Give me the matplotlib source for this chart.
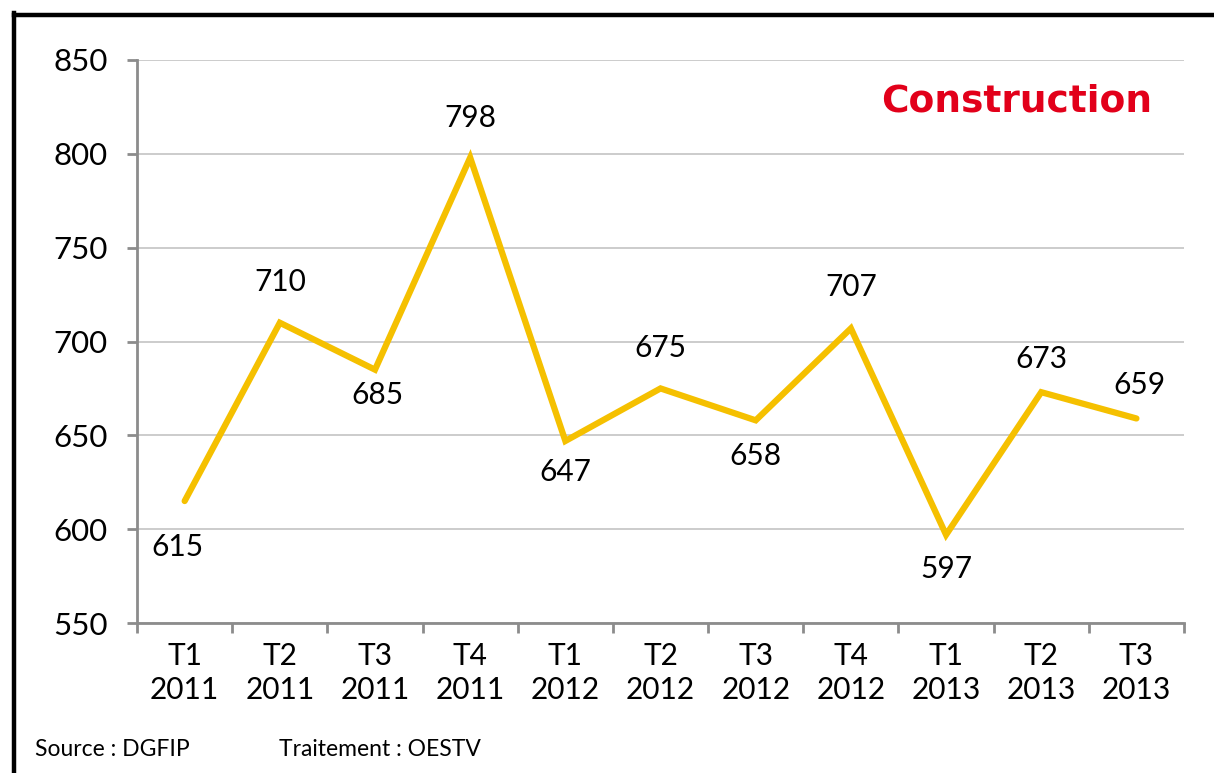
import matplotlib.pyplot as plt
from matplotlib.lines import Line2D

quarters = ['T1\n2011', 'T2\n2011', 'T3\n2011', 'T4\n2011',
            'T1\n2012', 'T2\n2012', 'T3\n2012', 'T4\n2012',
            'T1\n2013', 'T2\n2013', 'T3\n2013']
values = [615, 710, 685, 798, 647, 675, 658, 707, 597, 673, 659]

# label offsets in pixels (dx, dy), as placed in the original chart
label_dx = [-7, 0, 2, 0, 0, 0, 0, 0, 0, 0, 3]
label_dy = [-46, 41, -25, 40, -31, 40, -36, 41, -34, 33, 33]

plt.rcParams['font.family'] = ['Lato', 'DejaVu Sans']

fig = plt.figure(figsize=(12.14, 7.73), dpi=100)
ax = fig.add_axes([0.1129, 0.194, 0.8624, 0.7284])

xs = list(range(len(values)))
ax.plot(xs, values, color='#F5C000', lw=4.5, solid_joinstyle='miter',
        solid_capstyle='round', zorder=3)

for x, v, dx, dy in zip(xs, values, label_dx, label_dy):
    ax.annotate(str(v), (x, v), xytext=(dx * 0.72, dy * 0.72), textcoords='offset points',
                ha='center', va='center', fontsize=21.5, color='black')

ax.set_xlim(-0.5, len(values) - 0.5)
ax.set_ylim(550, 850)
ax.set_yticks(range(550, 851, 50))
ax.set_xticks(xs)
ax.set_xticklabels(quarters, fontsize=21.5, linespacing=1.25)
ax.set_xticks([i - 0.5 for i in range(len(values) + 1)], minor=True)
ax.tick_params(axis='x', which='major', length=0, pad=14)
ax.tick_params(axis='x', which='minor', length=7, width=2, color='#8c8c8c', direction='out')
ax.tick_params(axis='y', length=7, width=2, color='#8c8c8c', labelsize=22.5, pad=14)

ax.grid(axis='y', color='#c8c8c8', lw=1.3)
ax.set_axisbelow(True)
for s in ['top', 'right']:
    ax.spines[s].set_visible(False)
for s in ['left', 'bottom']:
    ax.spines[s].set_color('#8c8c8c')
    ax.spines[s].set_linewidth(2)

ax.text(0.970, 0.927, 'Construction', transform=ax.transAxes, ha='right', va='center',
        fontsize=27, fontweight='bold', color='#E2001A', family=['DejaVu Sans'])

fig.text(35 / 1214, 1 - 750 / 773, 'Source : DGFIP', fontsize=16.5, va='center', ha='left')
fig.text(279 / 1214, 1 - 750 / 773, 'Traitement : OESTV', fontsize=16.5, va='center', ha='left')

# black frame on left and top edges
fig.add_artist(Line2D([13.5 / 1214, 13.5 / 1214], [0, 1 - 13 / 773], color='black', lw=3.2,
                      transform=fig.transFigure, solid_capstyle='projecting'))
fig.add_artist(Line2D([13.5 / 1214, 1], [1 - 14.5 / 773, 1 - 14.5 / 773], color='black', lw=3.2,
                      transform=fig.transFigure, solid_capstyle='projecting'))

fig.savefig('out.png', dpi=100)
